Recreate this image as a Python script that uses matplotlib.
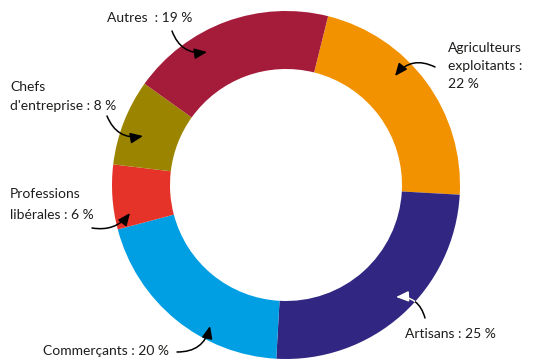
import matplotlib.pyplot as plt

# Répartition par catégorie socioprofessionnelle
categories = ["Agriculteurs exploitants", "Artisans", "Commerçants",
              "Professions libérales", "Chefs d'entreprise", "Autres"]
parts = [22, 25, 20, 6, 8, 19]
couleurs = ["#F39200", "#312783", "#009FE3", "#E6332A", "#9B8500", "#A51C3A"]

plt.rcParams['font.family'] = ['Lato', 'DejaVu Sans']
texte = "#1d1d1b"

fig = plt.figure(figsize=(5.34, 3.6), dpi=100)
ax = fig.add_axes([0, 0, 1, 1])

wedges, _ = ax.pie(parts, colors=couleurs, startangle=76, counterclock=False,
                   center=(286, 175), radius=174,
                   wedgeprops=dict(width=58, linewidth=0))
ax.set_xlim(0, 534)
ax.set_ylim(0, 360)
ax.set_aspect('equal')
ax.axis('off')


def Y(y):
    # coordonnées pixel (origine en haut) -> axe
    return 360 - y


def etiquette(x, y, s):
    ax.text(x, Y(y), s, fontsize=10, color=texte, ha='left', va='center')


def fleche(x0, y0, x1, y1, rad, couleur="black"):
    return ax.annotate("", xy=(x1, Y(y1)), xytext=(x0, Y(y0)),
                       arrowprops=dict(arrowstyle="-|>,head_length=0.75,head_width=0.32",
                                       color=couleur, lw=1.1,
                                       connectionstyle=f"arc3,rad={rad}",
                                       shrinkA=0, shrinkB=0))


etiquette(107, 18, f"Autres  : {parts[5]} %")
etiquette(448, 48, "Agriculteurs")
etiquette(448, 66, "exploitants :")
etiquette(448, 84, f"{parts[0]} %")
etiquette(10, 87, "Chefs")
etiquette(10, 106, f"d'entreprise : {parts[4]} %")
etiquette(10, 194, "Professions")
etiquette(10, 215, f"libérales : {parts[3]} %")
etiquette(43, 351, f"Commerçants : {parts[2]} %")
etiquette(405, 334, f"Artisans : {parts[1]} %")

fleche(172, 31, 207, 52, 0.4)
fleche(435, 67, 395, 76, 0.4)
fleche(107, 116, 143, 136, 0.4)
fleche(92, 228, 130, 213, 0.3)
fleche(177, 352, 210, 326, 0.4)
fleche(425, 318, 396, 297, 0.4)
# partie blanche de la flèche sur l'anneau violet
a = fleche(425, 318, 396, 297, 0.4, couleur="white")
a.arrow_patch.set_clip_path(wedges[1])

fig.savefig("out.png", dpi=100)
